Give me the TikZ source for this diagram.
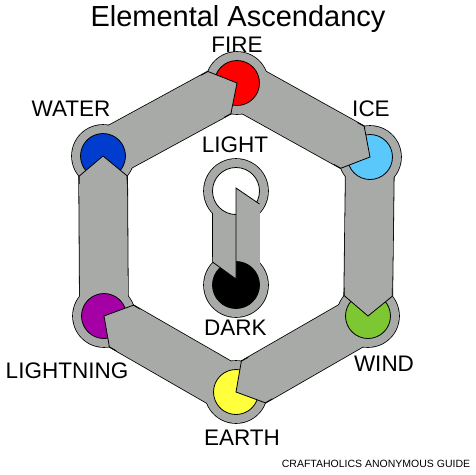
\documentclass[tikz,border=0pt]{standalone}
\usepackage{fontspec}
\setmainfont{Liberation Sans}
\usetikzlibrary{calc}
\definecolor{hexgray}{RGB}{168,170,168}
\definecolor{fireRed}{RGB}{255,0,0}
\definecolor{iceBlue}{RGB}{90,200,250}
\definecolor{windGreen}{RGB}{125,200,50}
\definecolor{earthYellow}{RGB}{255,255,60}
\definecolor{boltPurple}{RGB}{165,0,165}
\definecolor{waterBlue}{RGB}{0,60,205}
\def\bhw{24pt}
\def\tdp{20pt}
\def\tdk{28pt}
\newcommand\barpath[2]{($(#1)!\bhw!90:(#2)$) -- ($($(#2)!\tdp!(#1)$)!\bhw!90:(#2)$) -- (#2) -- ($($(#2)!\tdp!(#1)$)!\bhw!-90:(#2)$) -- ($(#1)!\bhw!-90:(#2)$) -- cycle}
\newcommand\tippath[2]{($($(#2)!\tdk!(#1)$)!\bhw!90:(#2)$) -- ($($(#2)!\tdp!(#1)$)!\bhw!90:(#2)$) -- (#2) -- ($($(#2)!\tdp!(#1)$)!\bhw!-90:(#2)$) -- ($($(#2)!\tdk!(#1)$)!\bhw!-90:(#2)$)}
\tikzset{
  outlinepass/.style={draw=black, line width=1.6pt},
  fillpass/.style={fill=hexgray},
  dot/.style={circle, draw=black, line width=0.8pt, minimum size=45pt, inner sep=0pt},
  bigdot/.style={dot, minimum size=47pt},
  edge/.style={draw=black, line width=0.8pt, line join=miter},
  lbl/.style={font=\fontsize{22.5}{22.5}\selectfont, anchor=base, inner sep=0pt},
}
\begin{document}
\begin{tikzpicture}[x=1pt,y=-1pt]
\fill[white] (0,0) rectangle (475,475);
\useasboundingbox (0,0) rectangle (475,475);
\coordinate (fire) at (237,83);
\coordinate (ice) at (370,157);
\coordinate (wind) at (368,316);
\coordinate (earth) at (236,392);
\coordinate (lightning) at (104,316);
\coordinate (water) at (103,156);
\coordinate (light) at (236,191);
\coordinate (dark) at (236,285);
% union outline pass
\foreach \p in {fire,ice,wind,earth,lightning,water} \path[outlinepass] (\p) circle[radius=31pt];
\foreach \p in {light,dark} \path[outlinepass] (\p) circle[radius=32pt];
\foreach \a/\b in {water/fire,fire/ice,ice/wind,wind/earth,earth/lightning,lightning/water}
  \path[outlinepass] \barpath{\a}{\b};
\path[outlinepass] (212.5,191) rectangle (259.5,285);
% union fill pass
\foreach \p in {fire,ice,wind,earth,lightning,water} \path[fillpass] (\p) circle[radius=31pt];
\foreach \p in {light,dark} \path[fillpass] (\p) circle[radius=32pt];
\foreach \a/\b in {water/fire,fire/ice,ice/wind,wind/earth,earth/lightning,lightning/water}
  \path[fillpass] \barpath{\a}{\b};
\path[fillpass] (212.5,191) rectangle (259.5,285);
% coloured circles
\node[dot, fill=fireRed] (fireDot) at (fire) {};
\node[dot, fill=iceBlue] (iceDot) at (ice) {};
\node[dot, fill=windGreen] (windDot) at (wind) {};
\node[dot, fill=earthYellow] (earthDot) at (earth) {};
\node[dot, fill=boltPurple] (lightningDot) at (lightning) {};
\node[dot, fill=waterBlue] (waterDot) at (water) {};
\node[bigdot, fill=white] (lightDot) at (light) {};
\node[bigdot, fill=black] (darkDot) at (dark) {};
% arrow tips over the circles
\foreach \a/\b in {water/fire,fire/ice,ice/wind,wind/earth,earth/lightning,lightning/water}{
  \path[fillpass] \tippath{\a}{\b} -- cycle;
  \path[edge] \tippath{\a}{\b};
}
\coordinate (lightTip) at (236,188);
\coordinate (darkTip) at (236,279);
\path[fillpass] (lightTip) -- (259.5,204) -- (259.5,216) -- (236,216) -- cycle;
\path[fillpass] (212.5,257) -- (212.5,262) -- (darkTip) -- (236,257) -- cycle;
\path[edge] (259.5,204) -- (lightTip) -- (darkTip) -- (212.5,262);
% labels
\node[lbl, font=\fontsize{29}{29}\selectfont] (title) at (238,26) {Elemental Ascendancy};
\node[lbl] (fireLbl) at (237,52) {FIRE};
\node[lbl] (iceLbl) at (371,116) {ICE};
\node[lbl] (waterLbl) at (71,116) {WATER};
\node[lbl] (lightLbl) at (235,152) {LIGHT};
\node[lbl] (darkLbl) at (235.5,335) {DARK};
\node[lbl] (lightningLbl) at (67,378) {LIGHTNING};
\node[lbl] (windLbl) at (384,371) {WIND};
\node[lbl] (earthLbl) at (242,445) {EARTH};
\node[lbl, font=\fontsize{10.5}{10.5}\selectfont] (credit) at (376,467) {CRAFTAHOLICS ANONYMOUS GUIDE};
\end{tikzpicture}
\end{document}
